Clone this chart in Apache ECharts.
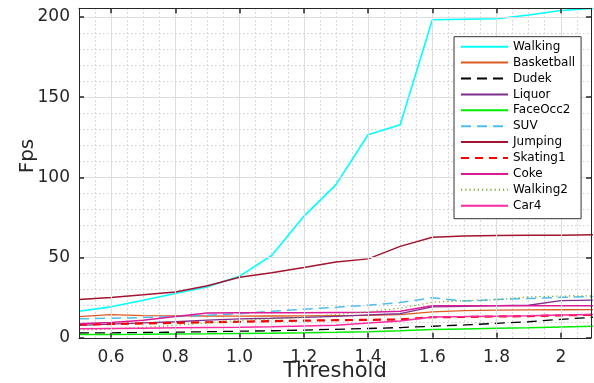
<!DOCTYPE html>
<html><head><meta charset="utf-8">
<script src="https://cdn.jsdelivr.net/npm/echarts@6/dist/echarts.min.js"></script>
<style>html,body{margin:0;padding:0;background:#fff}#c{width:594px;height:383px}</style>
</head><body><div id="c"></div>
<script>
const thresholds = [0.5,0.6,0.7,0.8,0.9,1.0,1.1,1.2,1.3,1.4,1.5,1.6,1.7,1.8,1.9,2.0,2.1];
const xTicks = [0.6,0.8,1.0,1.2,1.4,1.6,1.8,2.0];
const xTickLabels = ['0.6','0.8','1.0','1.2','1.4','1.6','1.8','2'];
const yTicks = [0,50,100,150,200];

const walking    = [16.5,19.3,23.4,27.6,31.8,38.4,51.3,75.7,95.5,126.6,132.8,198.3,198.6,198.9,201.2,204.0,205.3];
const basketball = [13.2,14.5,13.8,13.7,13.6,13.5,13.6,13.7,13.8,14.0,14.5,16.2,17.0,17.3,17.4,17.5,17.6];
const dudek      = [3.0,3.1,3.3,3.5,3.8,4.1,4.4,4.8,5.3,5.8,6.4,7.2,8.0,9.0,10.0,11.5,12.8];
const liquor     = [7.7,8.5,9.3,10.0,11.0,11.8,12.2,12.7,13.4,14.3,15.0,19.3,19.6,20.0,20.3,23.2,23.5];
const faceOcc2   = [2.0,2.1,2.2,2.4,2.5,2.7,2.9,3.1,3.4,3.8,4.4,5.1,5.5,5.9,6.3,6.8,7.2];
const suv        = [11.8,12.2,12.6,13.2,14.0,15.0,16.5,17.8,19.0,20.3,22.0,25.0,22.9,23.9,24.5,25.2,25.7];
const jumping    = [23.9,25.1,26.8,28.6,32.5,37.7,40.6,43.8,47.3,49.2,57.0,62.7,63.4,63.7,63.9,64.0,64.2];
const skating1   = [8.3,8.6,9.0,9.3,9.7,10.0,10.4,10.7,11.0,11.2,11.4,12.8,13.0,13.3,13.5,14.0,14.3];
const coke       = [8.7,9.5,11.0,13.3,15.4,15.6,15.6,15.6,15.8,16.0,16.6,20.0,20.0,20.0,20.0,20.0,20.0];
const walking2   = [4.8,5.5,6.5,7.8,9.3,10.8,11.8,13.0,14.5,16.3,18.5,22.2,23.2,23.8,25.5,26.0,26.2];
const car4       = [5.6,5.8,6.0,6.2,6.4,6.6,6.9,7.4,7.9,9.3,10.4,13.0,13.2,13.5,13.8,14.2,14.5];

const seriesDefs = [
  {name:'Walking',    data:walking,    color:'#00ffff', width:1.6, type:'solid'},
  {name:'Basketball', data:basketball, color:'#dd5a22', width:1.3, type:'solid'},
  {name:'Dudek',      data:dudek,      color:'#000000', width:1.3, type:[10,6]},
  {name:'Liquor',     data:liquor,     color:'#7E2F8E', width:1.3, type:'solid'},
  {name:'FaceOcc2',   data:faceOcc2,   color:'#00ee00', width:1.5, type:'solid'},
  {name:'SUV',        data:suv,        color:'#4DBEEE', width:1.5, type:[10,6]},
  {name:'Jumping',    data:jumping,    color:'#A2142F', width:1.5, type:'solid'},
  {name:'Skating1',   data:skating1,   color:'#ff0000', width:2.2, type:[8,6]},
  {name:'Coke',       data:coke,       color:'#dc1a96', width:1.5, type:'solid'},
  {name:'Walking2',   data:walking2,   color:'#77AC30', width:1.3, type:[1.2,3]},
  {name:'Car4',       data:car4,       color:'#ff2aa0', width:1.5, type:'solid'}
];

const FONT = 'DejaVu Sans';
const AX = '#262626';
const XMIN = 0.5, XMAX = 2.094, YMIN = 0, YMAX = 205.4;

const chart = echarts.init(document.getElementById('c'), null, {renderer:'canvas'});
chart.setOption({
  animation:false,
  backgroundColor:'#ffffff',
  grid:{left:79, right:3, top:8.3, bottom:45.2, containLabel:false, outerBoundsMode:'none'},
  legend:{
    orient:'vertical', left:454, top:36.7,
    itemWidth:47, itemHeight:14, itemGap:1.9,
    padding:[3,6,6,6],
    backgroundColor:'#ffffff', borderColor:'#333333', borderWidth:1, borderRadius:0,
    itemStyle:{opacity:0},
    textStyle:{fontFamily:FONT, fontSize:12, color:'#000', lineHeight:14},
    data:seriesDefs.map(s=>s.name)
  },
  xAxis:[
    {type:'value', position:'bottom', min:XMIN, max:XMAX, z:3,
     name:'Threshold', nameLocation:'middle', nameGap:23, nameMoveOverlap:false,
     nameTextStyle:{fontFamily:FONT, fontSize:21, color:AX},
     axisLine:{show:true, onZero:false, lineStyle:{color:AX, width:1}},
     axisTick:{show:true, inside:true, length:5, customValues:xTicks, lineStyle:{color:AX, width:1.5}},
     axisLabel:{customValues:xTicks, margin:11, fontFamily:FONT, fontSize:17, color:AX,
       formatter:v=>{const i=xTicks.findIndex(t=>Math.abs(t-v)<1e-6);return i>=0?xTickLabels[i]:'';}},
     splitLine:{show:true, lineStyle:{color:'#dedede', width:1}}},
    {type:'value', position:'top', min:XMIN, max:XMAX, z:3,
     axisLine:{show:true, onZero:false, lineStyle:{color:AX, width:1}},
     axisTick:{show:true, inside:true, length:5, customValues:xTicks, lineStyle:{color:AX, width:1.5}},
     axisLabel:{show:false}, splitLine:{show:false}},
    {type:'value', position:'bottom', min:XMIN, max:XMAX, interval:0.05, z:1,
     axisLine:{show:false}, axisTick:{show:false}, axisLabel:{show:false},
     splitLine:{show:true, lineStyle:{color:'#cccccc', width:1, type:[1.5,2.5]}}}
  ],
  yAxis:[
    {type:'value', position:'left', min:YMIN, max:YMAX, z:3,
     name:'Fps', nameLocation:'middle', nameGap:41, nameRotate:90, nameMoveOverlap:false,
     nameTextStyle:{fontFamily:FONT, fontSize:20, color:AX, padding:[0,0,0,34]},
     axisLine:{show:true, onZero:false, lineStyle:{color:AX, width:1}},
     axisTick:{show:true, inside:true, length:5, customValues:yTicks, lineStyle:{color:AX, width:1.5}},
     axisLabel:{customValues:yTicks, margin:9, fontFamily:FONT, fontSize:17, color:AX,
       verticalAlign:'middle', verticalAlignMinLabel:'middle', verticalAlignMaxLabel:'middle'},
     splitLine:{show:true, lineStyle:{color:'#dedede', width:1}}},
    {type:'value', position:'right', min:YMIN, max:YMAX, z:3,
     axisLine:{show:true, onZero:false, lineStyle:{color:AX, width:1}},
     axisTick:{show:true, inside:true, length:5, customValues:yTicks, lineStyle:{color:AX, width:1.5}},
     axisLabel:{show:false}, splitLine:{show:false}},
    {type:'value', position:'left', min:YMIN, max:YMAX, interval:10, z:1,
     axisLine:{show:false}, axisTick:{show:false}, axisLabel:{show:false},
     splitLine:{show:true, lineStyle:{color:'#cccccc', width:1, type:[1.5,2.5]}}}
  ],
  series:seriesDefs.map(s=>({
    name:s.name, type:'line', xAxisIndex:0, yAxisIndex:0,
    data:thresholds.map((x,i)=>[x, s.data[i]]),
    symbol:'none', showSymbol:false, clip:true, z:2,
    lineStyle:{color:s.color, width:s.width, type:s.type},
    itemStyle:{color:s.color}
  }))
});
</script></body></html>
